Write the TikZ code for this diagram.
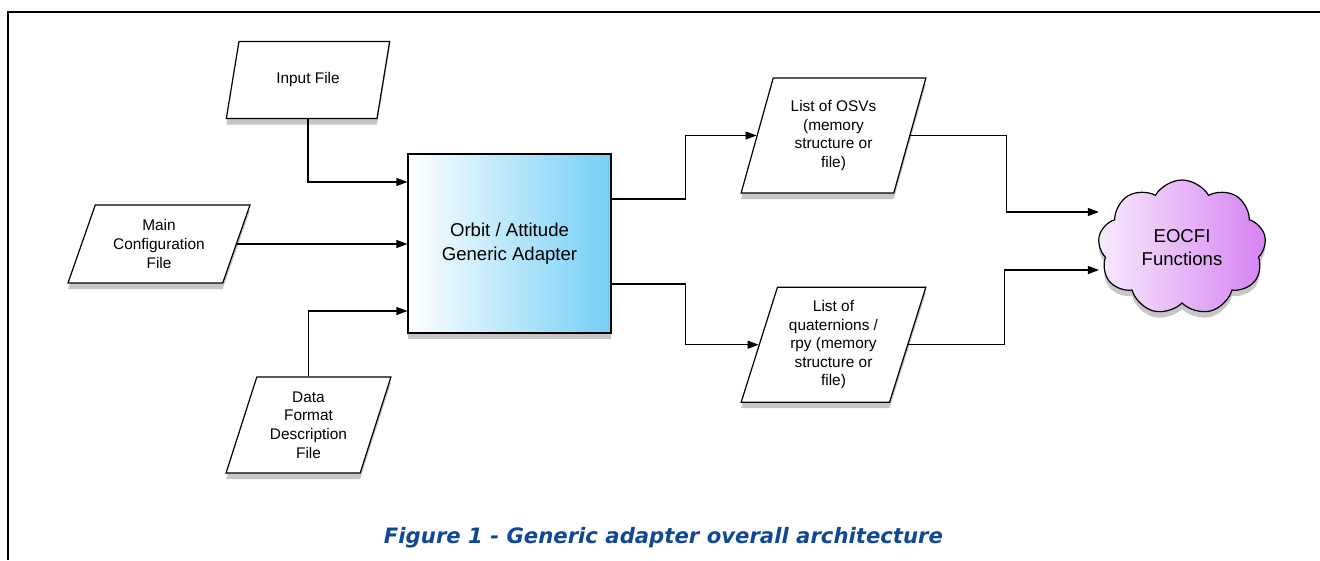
\documentclass[tikz,border=0pt]{standalone}
\usepackage{fontspec}
\setmainfont{Liberation Sans}
\newfontfamily\captionfont{DejaVu Sans}
\usetikzlibrary{positioning, shapes.geometric, shapes.symbols, shadows, arrows.meta, calc}
\definecolor{adapter-blue}{RGB}{116,207,245}
\definecolor{cloud-pale}{RGB}{247,236,252}
\definecolor{cloud-violet}{RGB}{214,130,242}
\definecolor{caption-blue}{RGB}{16,72,150}

\begin{document}
\begin{tikzpicture}[x=1pt, y=-1pt]
				\tikzset{shadowed/.style={drop shadow={opacity=0.45, shadow xshift=0pt, shadow yshift=-6pt}}}
				\tikzset{datafile/.style={trapezium, trapezium left angle=68, trapezium right angle=112, trapezium stretches=true, draw, line width=1.2pt, fill=white, shadowed, inner sep=0pt, align=center, font=\fontsize{15.4}{18.6}\selectfont}}
				\tikzset{bigtext/.style={align=center, font=\fontsize{18.6}{23.5}\selectfont}}
				\tikzset{arr/.style={-{Triangle[length=11pt, width=8pt]}, line width=1.2pt}}
				\useasboundingbox (0,0) rectangle (1320,560);
				\draw[line width=2pt] (7.5,560) -- (7.5,12) -- (1320,12);
				% the adapter in the middle
				\node[draw, line width=1.2pt, left color=white, right color=adapter-blue, shadowed, bigtext, minimum width=203pt, minimum height=179pt] (adapter) at (509.5,243.5) {Orbit / Attitude\\Generic Adapter};
				% inputs
				\node[datafile, minimum width=164pt, minimum height=77pt] (infile) at (308,80) {Input File};
				\node[datafile, minimum width=182pt, minimum height=78pt] (mainconf) at (159,244) {Main\\Configuration\\File};
				\node[datafile, trapezium left angle=71, trapezium right angle=109, minimum width=165pt, minimum height=96pt] (formatfile) at (308.5,425) {Data\\Format\\Description\\File};
				\draw[arr] (infile.center |- infile.south) |- ([yshift=61.5pt]adapter.west);
				\draw[arr] (mainconf.east) -- (mainconf.east -| adapter.west);
				\draw[arr] (formatfile.center |- formatfile.north) |- ([yshift=-67.5pt]adapter.west);
				% outputs
				\node[datafile, trapezium left angle=72, trapezium right angle=108, minimum width=185pt, minimum height=115pt] (osv) at (833.5,135.5) {List of OSVs\\(memory\\structure or\\file)};
				\node[datafile, trapezium left angle=72, trapezium right angle=108, minimum width=185pt, minimum height=115pt, below=93pt of osv] (quat) {List of\\quaternions /\\rpy (memory\\structure or\\file)};
				\draw[arr] ([yshift=44.5pt]adapter.east) -- ++(74,0) |- (osv.west);
				\draw[arr] ([yshift=-40.5pt]adapter.east) -- ++(74,0) |- (quat.west);
				\node[cloud, cloud puffs=9, cloud puff arc=120, aspect=1.25, draw, line width=1.2pt, left color=cloud-pale, right color=cloud-violet, shadowed, bigtext, minimum width=168pt, minimum height=135pt, inner sep=0pt] (eocfi) at (1182,247.5) {EOCFI\\Functions};
				\draw[arr] (osv.east) -- ++(96,0) |- ([yshift=35.5pt]eocfi.west);
				\draw[arr] (quat.east) -- ++(96,0) |- ([yshift=-22.5pt]eocfi.west);
				\node[text=caption-blue, font=\captionfont\fontsize{21.2}{25}\selectfont\bfseries\itshape] (caption) at (663.5,538) {Figure 1 - Generic adapter overall architecture};
\end{tikzpicture}
\end{document}
